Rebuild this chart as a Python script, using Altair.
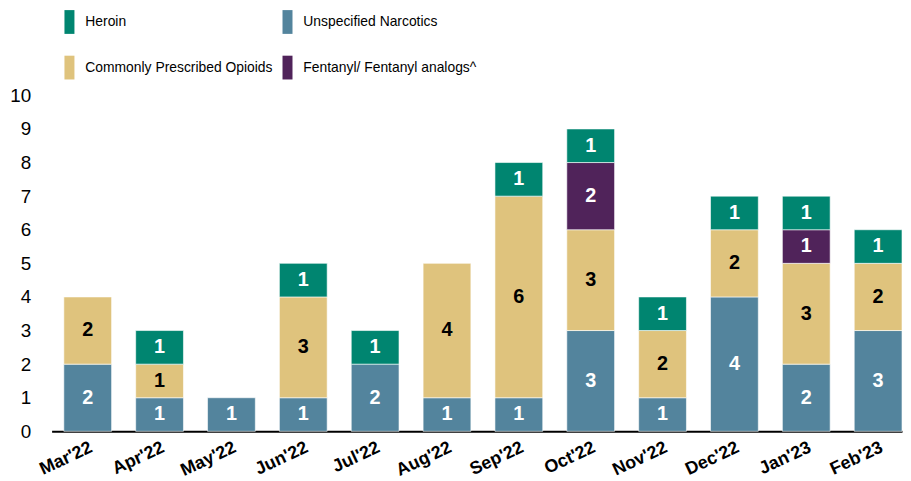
import altair as alt
import pandas as pd

months = ["Mar'22", "Apr'22", "May'22", "Jun'22", "Jul'22", "Aug'22",
          "Sep'22", "Oct'22", "Nov'22", "Dec'22", "Jan'23", "Feb'23"]
unspecified = [2, 1, 1, 1, 2, 1, 1, 3, 1, 4, 2, 3]
prescribed = [2, 1, 0, 3, 0, 4, 6, 3, 2, 2, 3, 2]
fentanyl = [0, 0, 0, 0, 0, 0, 0, 2, 0, 0, 1, 0]
heroin = [0, 1, 0, 1, 1, 0, 1, 1, 1, 1, 1, 1]

categories = ["Heroin", "Commonly Prescribed Opioids", "Unspecified Narcotics",
              "Fentanyl/ Fentanyl analogs^"]
colors = ["#008570", "#DFC37D", "#53849D", "#50235A"]
stack_rank = {"Unspecified Narcotics": 0, "Commonly Prescribed Opioids": 1,
              "Fentanyl/ Fentanyl analogs^": 2, "Heroin": 3}

rows = []
for i, m in enumerate(months):
    for cat, vals in [("Unspecified Narcotics", unspecified),
                      ("Commonly Prescribed Opioids", prescribed),
                      ("Fentanyl/ Fentanyl analogs^", fentanyl),
                      ("Heroin", heroin)]:
        if vals[i] > 0:
            rows.append({"month": m, "category": cat, "value": vals[i],
                         "rank": stack_rank[cat]})
df = pd.DataFrame(rows)

x_enc = alt.X("month:N", sort=months, title=None,
              scale=alt.Scale(paddingInner=0.335, paddingOuter=0.085, align=1, round=False),
              axis=alt.Axis(labelAngle=-25, labelFontWeight="bold", labelFontSize=18,
                            labelFont="Liberation Sans", labelColor="black",
                            ticks=False, domainColor="black", domainWidth=2,
                            labelPadding=7))

y_axis = alt.Axis(values=list(range(0, 11)), grid=False, ticks=False, domain=False,
                  labelFontSize=19, labelFont="Liberation Sans", labelOverlap=False,
                  labelColor="black", labelPadding=21)
y_scale = alt.Scale(domain=[0, 10], nice=False)

base = alt.Chart(df).transform_stack(
    stack="value", groupby=["month"], as_=["y0", "y1"],
    sort=[alt.SortField("rank", order="ascending")]
).transform_calculate(mid="(datum.y0 + datum.y1) / 2")

bars = base.mark_bar(stroke="white", strokeWidth=1, strokeOpacity=0.6).encode(
    x=x_enc,
    y=alt.Y("y0:Q", title=None, scale=y_scale, axis=y_axis),
    y2="y1:Q",
    color=alt.Color("category:N", title=None,
                    scale=alt.Scale(domain=categories, range=colors),
                    legend=alt.Legend(orient="none", legendX=6, legendY=-86, columns=2,
                                      symbolType="M-0.42,-1H0.42V1H-0.42Z",
                                      symbolSize=576, symbolStrokeWidth=0,
                                      symbolOpacity=1,
                                      labelFont="Liberation Sans",
                                      labelFontSize=14, labelColor="black",
                                      labelOffset=4, columnPadding=2, rowPadding=22,
                                      labelLimit=300, padding=0)),
)

labels = base.mark_text(font="Liberation Sans", fontSize=20, fontWeight="bold",
                        baseline="middle").encode(
    x=alt.X("month:N", sort=months, title=None),
    y=alt.Y("mid:Q", title=None, scale=y_scale, axis=y_axis),
    text=alt.Text("value:Q"),
    color=alt.condition(alt.datum.category == "Commonly Prescribed Opioids",
                        alt.value("black"), alt.value("white")),
)

chart = alt.layer(bars, labels).properties(
    width=858, height=339,
    padding={"left": 1, "top": 0, "right": 0, "bottom": 0},
).configure_view(stroke=None)

chart.save("out.html", embed_options={"renderer": "svg", "actions": False})
